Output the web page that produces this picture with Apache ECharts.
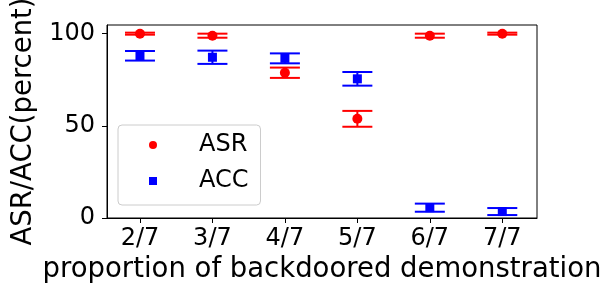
<!DOCTYPE html>
<html>
<head>
<meta charset="utf-8">
<script src="https://cdn.jsdelivr.net/npm/echarts@6/dist/echarts.min.js"></script>
<style>
html,body{margin:0;padding:0;background:#fff;}
#chart{width:600px;height:300px;}
</style>
</head>
<body>
<div id="chart"></div>
<script>
const xLabels = ['2/7', '3/7', '4/7', '5/7', '6/7', '7/7'];
const xValues = [2, 3, 4, 5, 6, 7];
const asrMean = [100, 98.9, 78.8, 53.8, 98.9, 100];
const asrErr = [0.55, 1.1, 2.8, 4.3, 1.1, 0.55];
const accMean = [88.0, 87.2, 86.6, 75.5, 5.6, 3.5];
const accErr = [2.6, 3.6, 2.7, 3.7, 2.2, 1.9];
const yTicks = [0, 50, 100];

const FONT = 'DejaVu Sans';
const chart = echarts.init(document.getElementById('chart'), null, {renderer: 'canvas'});

function errData(mean, err) {
  return xValues.map((x, i) => [x, mean[i] - err[i], mean[i] + err[i]]);
}
function errSeries(name, data, color) {
  return {
    type: 'custom',
    name: name,
    data: data,
    encode: {x: 0, y: [1, 2]},
    silent: true,
    z: 2,
    renderItem: function (params, api) {
      const x = api.value(0);
      const lo = api.coord([x, api.value(1)]);
      const hi = api.coord([x, api.value(2)]);
      const hw = 15;
      const st = {stroke: color, lineWidth: 2};
      return {
        type: 'group',
        children: [
          {type: 'line', shape: {x1: lo[0], y1: lo[1], x2: hi[0], y2: hi[1]}, style: st},
          {type: 'line', shape: {x1: lo[0] - hw, y1: lo[1], x2: lo[0] + hw, y2: lo[1]}, style: st},
          {type: 'line', shape: {x1: hi[0] - hw, y1: hi[1], x2: hi[0] + hw, y2: hi[1]}, style: st}
        ]
      };
    }
  };
}

const option = {
  animation: false,
  backgroundColor: '#fff',
  textStyle: {fontFamily: FONT},
  grid: {left: 107, right: 63, top: 25, bottom: 82, show: true, borderColor: '#000', borderWidth: 1,
         containLabel: false, outerBoundsMode: 'none'},
  xAxis: {
    type: 'value',
    min: 1.545,
    max: 7.479,
    splitLine: {show: false},
    axisLine: {show: true, lineStyle: {color: '#000', width: 1}},
    axisTick: {show: true, inside: false, length: 5, lineStyle: {color: '#000'}, customValues: xValues},
    axisLabel: {
      customValues: xValues,
      margin: 9,
      fontSize: 24,
      fontFamily: FONT,
      color: '#000',
      formatter: function (v) { const i = xValues.indexOf(v); return i >= 0 ? xLabels[i] : ''; }
    },
    name: 'proportion of backdoored demonstration',
    nameLocation: 'middle',
    nameGap: 34,
    nameTextStyle: {fontSize: 27.5, fontFamily: FONT, color: '#000'}
  },
  yAxis: {
    type: 'value',
    min: 0,
    max: 104.7,
    splitLine: {show: false},
    axisLine: {show: true, lineStyle: {color: '#000', width: 1}},
    axisTick: {show: true, inside: false, length: 5, lineStyle: {color: '#000'}, customValues: yTicks},
    axisLabel: {customValues: yTicks, margin: 12, fontSize: 24, fontFamily: FONT, color: '#000'},
    name: 'ASR/ACC(percent)',
    nameLocation: 'middle',
    nameGap: 59,
    nameTextStyle: {fontSize: 27.5, fontFamily: FONT, color: '#000'}
  },
  legend: {
    orient: 'vertical',
    left: 118,
    top: 125,
    padding: [8, 12, 12, 31],
    itemWidth: 8,
    itemHeight: 8,
    itemGap: 12,
    backgroundColor: 'rgba(255,255,255,0.8)',
    borderColor: '#cccccc',
    borderWidth: 1,
    borderRadius: 4,
    textStyle: {fontSize: 24, fontFamily: FONT, color: '#000', padding: [0, 0, 0, 37]},
    data: [{name: 'ASR', icon: 'circle'}, {name: 'ACC', icon: 'rect'}]
  },
  series: [
    errSeries('ASR err', errData(asrMean, asrErr), '#ff0000'),
    {
      type: 'scatter', name: 'ASR', z: 3,
      data: xValues.map((x, i) => [x, asrMean[i]]),
      symbol: 'circle', symbolSize: 10,
      itemStyle: {color: '#ff0000', opacity: 1}
    },
    errSeries('ACC err', errData(accMean, accErr), '#0000ff'),
    {
      type: 'scatter', name: 'ACC', z: 3,
      data: xValues.map((x, i) => [x, accMean[i]]),
      symbol: 'rect', symbolSize: 9,
      itemStyle: {color: '#0000ff', opacity: 1}
    }
  ]
};
chart.setOption(option);
</script>
</body>
</html>
